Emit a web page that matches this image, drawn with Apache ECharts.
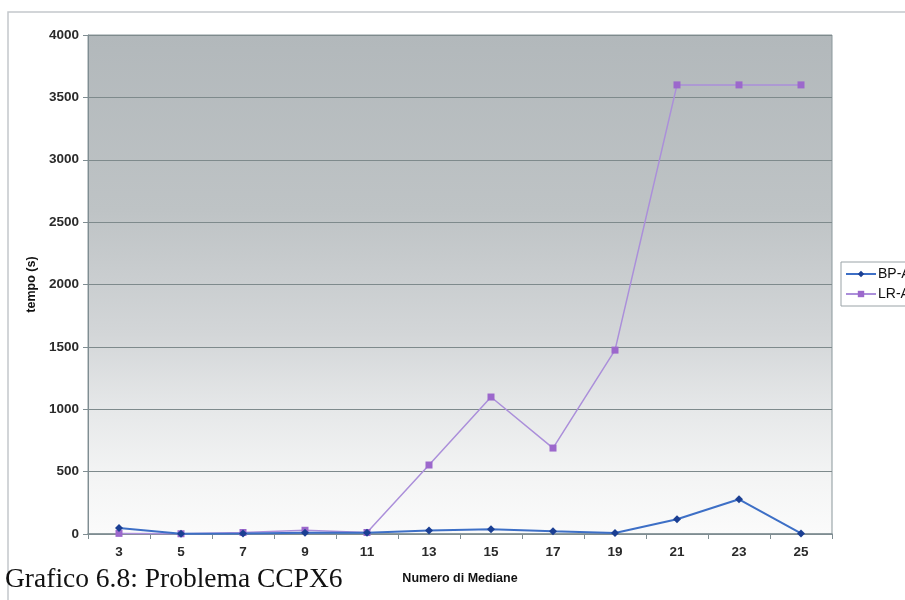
<!DOCTYPE html>
<html>
<head>
<meta charset="utf-8">
<title>Grafico 6.8: Problema CCPX6</title>
<script src="https://cdn.jsdelivr.net/npm/echarts@6/dist/echarts.min.js"></script>
<style>
  html, body { margin: 0; padding: 0; background: #ffffff; }
  #chart { width: 905px; height: 600px; }
</style>
</head>
<body>
<div id="chart"></div>
<script>
// Number of medians (x categories)
const mediane = ['3', '5', '7', '9', '11', '13', '15', '17', '19', '21', '23', '25'];
// Running times in seconds
const bpA = [48, 2, 5, 10, 10, 28, 38, 22, 8, 118, 278, 5];
const lrA = [5, 2, 12, 30, 12, 553, 1098, 689, 1474, 3600, 3600, 3600];
const yTicks = { min: 0, max: 4000, interval: 500 };

const chart = echarts.init(document.getElementById('chart'), null, { renderer: 'canvas' });

const axisLabelFont = { fontFamily: 'Liberation Sans, Arial, sans-serif', fontWeight: 'bold', fontSize: 13.5, color: '#2a2a2a' };

chart.setOption({
  animation: false,
  backgroundColor: '#ffffff',
  graphic: [
    {
      type: 'rect',
      shape: { x: 8, y: 12, width: 920, height: 620 },
      style: { fill: 'none', stroke: '#c4c8cc', lineWidth: 1.5 },
      z: 0
    },
    {
      type: 'text',
      left: 5,
      top: 566,
      style: {
        text: 'Grafico 6.8: Problema CCPX6',
        font: '27.5px "Liberation Serif", "Times New Roman", serif',
        fill: '#111'
      },
      z: 10
    }
  ],
  grid: {
    left: 88, right: 73, top: 35, bottom: 66,
    show: true,
    borderWidth: 1,
    borderColor: '#8a979b',
    backgroundColor: {
      type: 'linear', x: 0, y: 0, x2: 0, y2: 1,
      colorStops: [
        { offset: 0, color: '#b2b8bb' },
        { offset: 0.35, color: '#bec3c5' },
        { offset: 0.6, color: '#d3d6d8' },
        { offset: 0.75, color: '#e6e8e9' },
        { offset: 0.88, color: '#f3f4f4' },
        { offset: 1, color: '#fbfbfb' }
      ]
    }
  },
  legend: {
    orient: 'vertical',
    left: 841, top: 262,
    padding: [5, 30, 5, 4],
    itemGap: 6,
    itemWidth: 30, itemHeight: 8,
    borderColor: '#9aa3a7', borderWidth: 1,
    backgroundColor: '#ffffff',
    textStyle: { fontFamily: 'Liberation Sans, Arial, sans-serif', fontSize: 14, color: '#111', padding: [0, 0, 0, -3] },
    data: ['BP-A', 'LR-A']
  },
  xAxis: {
    type: 'category',
    data: mediane,
    boundaryGap: true,
    name: 'Numero di Mediane',
    nameLocation: 'middle',
    nameGap: 38,
    nameTextStyle: { fontFamily: 'Liberation Sans, Arial, sans-serif', fontWeight: 'bold', fontSize: 12.5, color: '#111' },
    axisLine: { lineStyle: { color: '#7f8d92', width: 1.5 } },
    axisTick: { show: true, alignWithLabel: false, length: 5, lineStyle: { color: '#7f8d92' } },
    axisLabel: Object.assign({ margin: 11 }, axisLabelFont),
    splitLine: { show: false }
  },
  yAxis: {
    type: 'value',
    min: yTicks.min, max: yTicks.max, interval: yTicks.interval,
    name: 'tempo (s)',
    nameLocation: 'middle',
    nameGap: 48,
    nameRotate: 90,
    nameTextStyle: { fontFamily: 'Liberation Sans, Arial, sans-serif', fontWeight: 'bold', fontSize: 12.5, color: '#111' },
    axisLine: { show: true, lineStyle: { color: '#7f8d92', width: 1 } },
    axisTick: { show: true, length: 5, lineStyle: { color: '#7f8d92' } },
    axisLabel: Object.assign({ margin: 9, formatter: v => String(v) }, axisLabelFont),
    splitLine: { show: true, lineStyle: { color: '#7e8a8c', width: 1.2 } }
  },
  series: [
    {
      name: 'BP-A',
      type: 'line',
      data: bpA,
      symbol: 'diamond',
      symbolSize: 8,
      lineStyle: { color: '#3d6fc6', width: 2 },
      itemStyle: { color: '#1b3f93' },
      z: 3
    },
    {
      name: 'LR-A',
      type: 'line',
      data: lrA,
      symbol: 'rect',
      symbolSize: 7,
      lineStyle: { color: '#ab8fda', width: 1.5 },
      itemStyle: { color: '#9c68cc' },
      z: 2
    }
  ]
});
</script>
</body>
</html>
